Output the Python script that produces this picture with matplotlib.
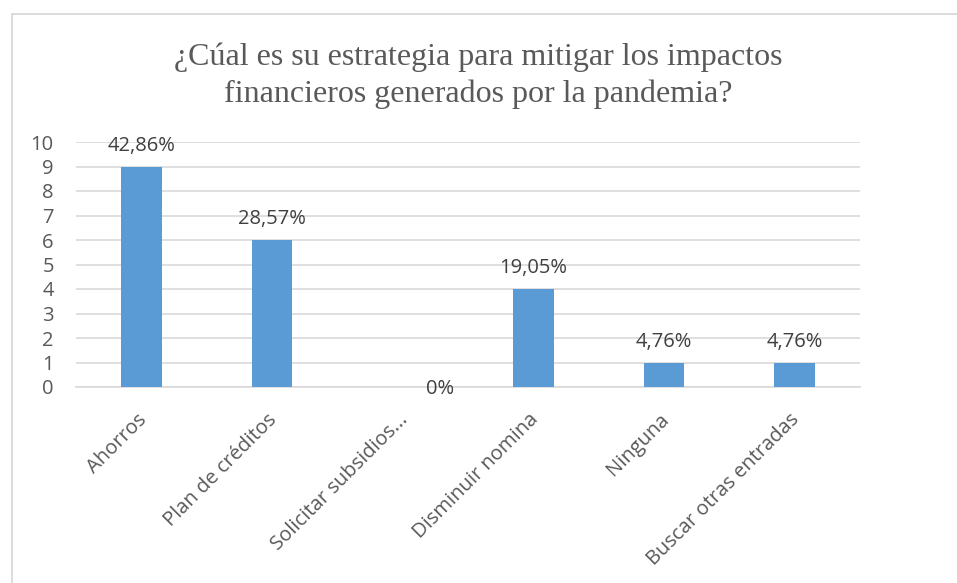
import matplotlib.pyplot as plt
import matplotlib.transforms as mtransforms
from matplotlib.patches import Rectangle

categorias = ['Ahorros', 'Plan de créditos', 'Solicitar subsidios...', 'Disminuir nomina',
              'Ninguna', 'Buscar otras entradas']
valores = [9, 6, 0, 4, 1, 1]
etiquetas = ['42,86%', '28,57%', '0%', '19,05%', '4,76%', '4,76%']
titulo = '¿Cúal es su estrategia para mitigar los impactos\nfinancieros generados por la pandemia?'

W, H = 957, 583
fig = plt.figure(figsize=(W / 100, H / 100), dpi=100)

# marco del grafico
fig.patches.append(Rectangle((12 / W, 0 - 0.01), 1.02, 1 - 14 / H + 0.01,
                             transform=fig.transFigure, fill=False,
                             edgecolor='#d9d9d9', linewidth=1.3))

ax = fig.add_axes([76 / W, 196 / H, 784 / W, 245 / H])
x = range(len(categorias))
ax.bar(x, valores, width=0.31, color='#5b9bd5', zorder=3)

for i, (v, t) in enumerate(zip(valores, etiquetas)):
    if v > 0:
        ax.annotate(t, (i, v), xytext=(0, 15), textcoords='offset points',
                    ha='center', va='center', fontsize=14.5,
                    family='Open Sans', color='#404040')
    else:
        # Excel deja la etiqueta del 0% corrida
        ax.annotate(t, (i + 0.285, v), xytext=(0, -1.5), textcoords='offset points',
                    ha='center', va='center', fontsize=14.5,
                    family='Open Sans', color='#404040')

ax.set_xlim(-0.5, len(categorias) - 0.5)
ax.set_ylim(0, 10)
ax.set_yticks(range(0, 11))
ax.yaxis.grid(True, color='#d9d9d9', linewidth=1.2, zorder=0)
for s in ['top', 'right', 'left']:
    ax.spines[s].set_visible(False)
ax.spines['bottom'].set_color('#d9d9d9')
ax.spines['bottom'].set_linewidth(1.2)
ax.tick_params(axis='both', length=0, labelsize=14.5, colors='#595959')
ax.tick_params(axis='y', pad=16)
ax.tick_params(axis='x', pad=12)
ax.set_xticks(list(x))
ax.set_xticklabels(categorias, rotation=45, ha='right', rotation_mode='anchor',
                   family='Open Sans')
shift = mtransforms.ScaledTranslation(-5 / 100, -6 / 100, fig.dpi_scale_trans)
for lab in ax.get_xticklabels():
    lab.set_transform(lab.get_transform() + shift)
for lab in ax.get_yticklabels():
    lab.set_family('Open Sans')

fig.text(478 / W, 1 - 76 / H, titulo, ha='center', va='center', fontsize=23,
         family='Liberation Serif', color='#595959', linespacing=1.35)

fig.savefig('out.png', dpi=100)
